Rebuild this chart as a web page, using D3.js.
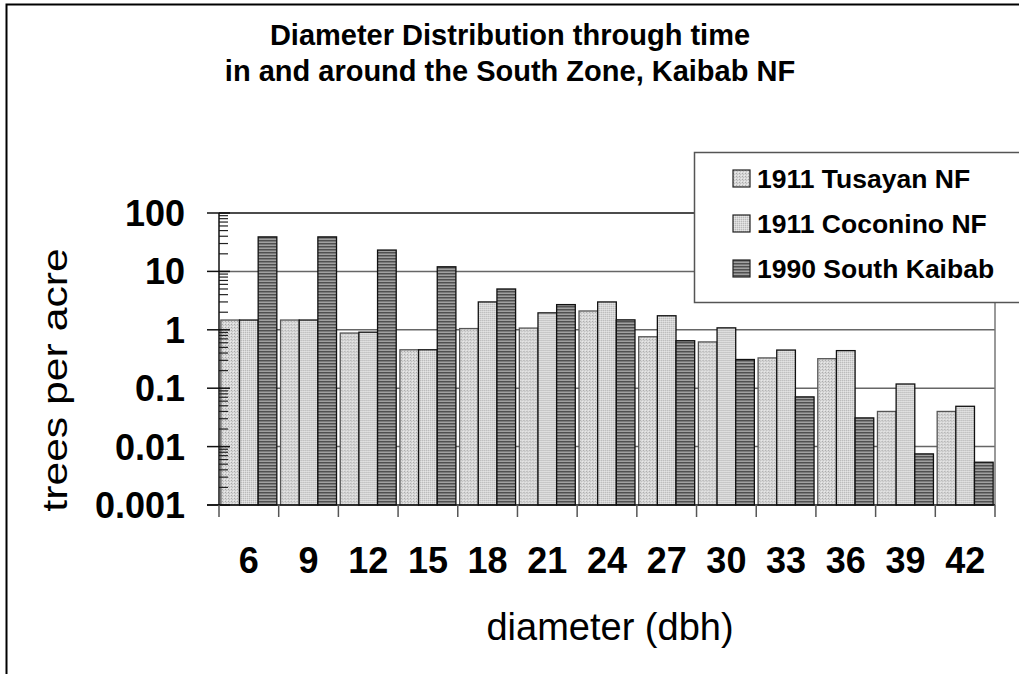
<!DOCTYPE html>
<html>
<head>
<script src="https://cdn.jsdelivr.net/npm/d3@7"></script>
<meta charset="utf-8">
<title>Diameter Distribution</title>
<style>
  body { margin: 0; background: #fff; }
  text { font-family: "Liberation Sans", Arial, sans-serif; }
</style>
</head>
<body>
<svg width="1019" height="674" id="mainsvg"></svg>
<script>
    // data
    let diameters = [6, 9, 12, 15, 18, 21, 24, 27, 30, 33, 36, 39, 42];
    let seriesNames = ['1911 Tusayan NF', '1911 Coconino NF', '1990 South Kaibab'];
    let tusayan = [1.47, 1.47, 0.88, 0.455, 1.05, 1.07, 2.1, 0.76, 0.62, 0.33, 0.32, 0.040, 0.040];
    let coconino = [1.47, 1.47, 0.91, 0.455, 3.0, 1.95, 3.0, 1.74, 1.08, 0.45, 0.44, 0.118, 0.049];
    let southKaibab = [39, 39, 23.2, 12.0, 5.0, 2.7, 1.48, 0.65, 0.31, 0.071, 0.031, 0.0075, 0.0054];
    let yTicks = [0.001, 0.01, 0.1, 1, 10, 100];
    let yTickLabels = ['0.001', '0.01', '0.1', '1', '10', '100'];

    let values = [tusayan, coconino, southKaibab];

    let mainsvg = d3.select('#mainsvg');
    let plotLeft = 219, plotRight = 995, plotTop = 213, plotBottom = 505;

    // frame (only top and left edges are visible)
    mainsvg.append('path')
        .attr('d', 'M6.5,674 L6.5,4.5 L1019,4.5')
        .attr('fill', 'none')
        .attr('stroke', 'black')
        .attr('stroke-width', 2);

    // patterns
    let defs = mainsvg.append('defs');
    let p1 = defs.append('pattern').attr('id', 'pat1')
        .attr('patternUnits', 'userSpaceOnUse').attr('width', 3).attr('height', 3);
    p1.append('rect').attr('width', 3).attr('height', 3).attr('fill', '#d8d8d8');
    p1.append('rect').attr('x', 0).attr('y', 0).attr('width', 1).attr('height', 1).attr('fill', '#a8a8a8');
    p1.append('rect').attr('x', 1).attr('y', 1).attr('width', 1).attr('height', 1).attr('fill', '#bebebe');
    p1.append('rect').attr('x', 2).attr('y', 2).attr('width', 1).attr('height', 1).attr('fill', '#ebebeb');

    let p2 = defs.append('pattern').attr('id', 'pat2')
        .attr('patternUnits', 'userSpaceOnUse').attr('width', 2).attr('height', 2);
    p2.append('rect').attr('width', 2).attr('height', 2).attr('fill', '#d6d6d6');
    p2.append('rect').attr('x', 0).attr('y', 0).attr('width', 1).attr('height', 1).attr('fill', '#bababa');
    p2.append('rect').attr('x', 1).attr('y', 1).attr('width', 1).attr('height', 1).attr('fill', '#e6e6e6');

    let p3 = defs.append('pattern').attr('id', 'pat3')
        .attr('patternUnits', 'userSpaceOnUse').attr('width', 3).attr('height', 3);
    p3.append('rect').attr('width', 3).attr('height', 3).attr('fill', '#a0a0a0');
    p3.append('rect').attr('x', 0).attr('y', 0).attr('width', 3).attr('height', 1).attr('fill', '#505050');
    p3.append('rect').attr('x', 0).attr('y', 1).attr('width', 3).attr('height', 1).attr('fill', '#7a7a7a');

    let fills = ['url(#pat1)', 'url(#pat2)', 'url(#pat3)'];

    // scales
    let x = d3.scaleBand().domain(diameters).range([plotLeft, plotRight]).paddingInner(0).paddingOuter(0);
    let xs = d3.scaleBand().domain(d3.range(3)).range([0, x.bandwidth()]).paddingInner(0).paddingOuter(0.1);
    let y = d3.scaleLog().domain([0.001, 100]).range([plotBottom, plotTop]);

    // grid lines
    mainsvg.append('g').selectAll('line').data(yTicks.slice(1)).join('line')
        .attr('x1', plotLeft).attr('x2', plotRight)
        .attr('y1', d => y(d)).attr('y2', d => y(d))
        .attr('stroke', d => d === 100 ? '#111' : '#666')
        .attr('stroke-width', 1.5);

    // right border of plot
    mainsvg.append('line')
        .attr('x1', plotRight).attr('x2', plotRight).attr('y1', plotTop).attr('y2', plotBottom)
        .attr('stroke', '#777').attr('stroke-width', 1.5);

    // bars
    let groups = mainsvg.append('g').selectAll('g').data(diameters).join('g')
        .attr('transform', d => `translate(${x(d)},0)`);
    groups.selectAll('rect').data((d, i) => values.map((s, k) => ({k: k, v: s[i]}))).join('rect')
        .attr('x', d => xs(d.k))
        .attr('width', xs.bandwidth())
        .attr('y', d => y(d.v))
        .attr('height', d => plotBottom - y(d.v))
        .attr('fill', d => fills[d.k])
        .attr('stroke', d => d.k === 0 ? '#555' : '#111')
        .attr('stroke-width', 1.3);

    // y axis
    let minor = [];
    for (let e = -3; e < 2; e++) {
        for (let m = 2; m < 10; m++) minor.push(m * Math.pow(10, e));
    }
    mainsvg.append('g').selectAll('line').data(minor).join('line')
        .attr('x1', plotLeft).attr('x2', plotLeft + 9)
        .attr('y1', d => y(d)).attr('y2', d => y(d))
        .attr('stroke', '#222').attr('stroke-width', 1.2);
    mainsvg.append('g').selectAll('line').data(yTicks).join('line')
        .attr('x1', plotLeft - 12).attr('x2', plotLeft + 11)
        .attr('y1', d => y(d)).attr('y2', d => y(d))
        .attr('stroke', '#111').attr('stroke-width', 1.5);
    mainsvg.append('line')
        .attr('x1', plotLeft).attr('x2', plotLeft).attr('y1', plotTop).attr('y2', plotBottom)
        .attr('stroke', '#111').attr('stroke-width', 1.5);

    mainsvg.append('g').selectAll('text').data(yTicks).join('text')
        .attr('x', 185)
        .attr('y', d => y(d) + 13)
        .attr('text-anchor', 'end')
        .attr('font-size', 36)
        .attr('font-weight', 'bold')
        .text((d, i) => yTickLabels[i]);

    // x axis
    mainsvg.append('line')
        .attr('x1', plotLeft - 12).attr('x2', plotRight).attr('y1', plotBottom).attr('y2', plotBottom)
        .attr('stroke', '#111').attr('stroke-width', 1.5);
    let bounds = diameters.map(d => x(d)).concat([plotRight]);
    mainsvg.append('g').selectAll('line').data(bounds).join('line')
        .attr('x1', d => d).attr('x2', d => d)
        .attr('y1', plotBottom).attr('y2', plotBottom + 12)
        .attr('stroke', '#555').attr('stroke-width', 1.5);
    mainsvg.append('g').selectAll('text').data(diameters).join('text')
        .attr('x', d => x(d) + x.bandwidth() / 2)
        .attr('y', 573)
        .attr('text-anchor', 'middle')
        .attr('font-size', 36)
        .attr('font-weight', 'bold')
        .text(d => d);

    // axis titles
    mainsvg.append('text')
        .attr('x', 610).attr('y', 640)
        .attr('text-anchor', 'middle')
        .attr('font-size', 38)
        .text('diameter (dbh)');
    mainsvg.append('text')
        .attr('transform', 'translate(67,380) rotate(-90) scale(1.22,1)')
        .attr('text-anchor', 'middle')
        .attr('font-size', 35)
        .text('trees per acre');

    // title
    mainsvg.append('text')
        .attr('x', 510).attr('y', 45)
        .attr('text-anchor', 'middle')
        .attr('font-size', 29)
        .attr('font-weight', 'bold')
        .text('Diameter Distribution through time');
    mainsvg.append('text')
        .attr('x', 510).attr('y', 81)
        .attr('text-anchor', 'middle')
        .attr('font-size', 29)
        .attr('font-weight', 'bold')
        .text('in and around the South Zone, Kaibab NF');

    // legend
    let legend = mainsvg.append('g');
    legend.append('rect')
        .attr('x', 694.5).attr('y', 152.5).attr('width', 340).attr('height', 150)
        .attr('fill', 'white').attr('stroke', '#555').attr('stroke-width', 1.5);
    let items = legend.selectAll('g').data(seriesNames).join('g')
        .attr('transform', (d, i) => `translate(733,${170 + i * 45})`);
    items.append('rect')
        .attr('width', 17).attr('height', 17)
        .attr('fill', (d, i) => fills[i])
        .attr('stroke', '#222').attr('stroke-width', 1.2);
    items.append('text')
        .attr('x', 24).attr('y', 18)
        .attr('font-size', 26.5)
        .attr('font-weight', 'bold')
        .text(d => d);
</script>
</body>
</html>
